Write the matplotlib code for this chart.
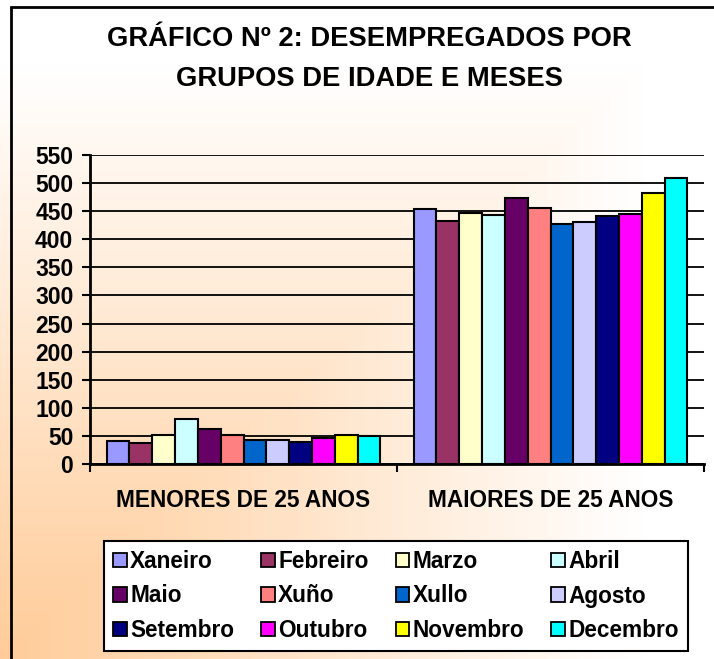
import numpy as np
import matplotlib.pyplot as plt
from matplotlib.patches import Rectangle, Patch

# data
grupos = ["MENORES DE 25 ANOS", "MAIORES DE 25 ANOS"]
meses = ["Xaneiro", "Febreiro", "Marzo", "Abril", "Maio", "Xuño",
         "Xullo", "Agosto", "Setembro", "Outubro", "Novembro", "Decembro"]
menores = [41, 38, 52, 80, 63, 51, 43, 43, 39, 47, 52, 50]
maiores = [454, 432, 447, 443, 474, 455, 428, 430, 441, 445, 482, 509]
cores = ["#9999FF", "#993366", "#FFFFCC", "#CCFFFF", "#660066", "#FF8080",
         "#0066CC", "#CCCCFF", "#000080", "#FF00FF", "#FFFF00", "#00FFFF"]
y_ticks = list(range(0, 551, 50))

plt.rcParams['font.family'] = ['Liberation Sans', 'DejaVu Sans']
plt.rcParams['font.weight'] = 'bold'

fig = plt.figure(figsize=(7.14, 6.59), dpi=100)

# background: corner gradient, orange bottom-left to white
bg = fig.add_axes([0, 0, 1, 1], zorder=-10)
gx, gy = np.meshgrid(np.linspace(0, 1, 400), np.linspace(0, 1, 400))
t = np.clip(np.maximum(gx, gy) / 0.9, 0, 1)
orange = np.array([255, 204, 153]) / 255.0
img = orange[None, None, :] * (1 - t[..., None]) + t[..., None]
bg.imshow(img, origin='lower', extent=[0, 1, 0, 1], aspect='auto')
bg.set_xlim(0, 1)
bg.set_ylim(0, 1)
bg.axis('off')

# outer frame (runs off the right/bottom of the picture)
fig.patches.append(Rectangle((11 / 714, -0.1), 1.2, (659 - 7) / 659 + 0.1,
                             transform=fig.transFigure, fill=False,
                             edgecolor='black', linewidth=2))

ax = fig.add_axes([90 / 714, (659 - 464) / 659, (704 - 90) / 714, (464 - 155) / 659])
ax.set_facecolor('none')

n = len(meses)
group_w = 0.892
bw = group_w / n
x = np.arange(len(grupos))
for i in range(n):
    vals = [menores[i], maiores[i]]
    pos = x - group_w / 2 + bw * (i + 0.5)
    ax.bar(pos, vals, width=bw, color=cores[i], edgecolor='black',
           linewidth=1.5, zorder=3)

ax.set_xlim(-0.5, 1.5)
ax.set_ylim(0, 550)
ax.set_yticks(y_ticks)
ax.set_yticklabels([str(v) for v in y_ticks], fontsize=16.5, fontweight='bold')
ax.yaxis.grid(True, color='black', linewidth=1.3, zorder=0)
ax.set_axisbelow(True)

ax.set_xticks(x)
ax.set_xticklabels(grupos, fontsize=16.3, fontweight='bold')
ax.tick_params(axis='x', which='major', length=0, pad=18)
ax.set_xticks([-0.5, 0.5, 1.5], minor=True)
ax.tick_params(axis='x', which='minor', length=6, width=1.5, direction='out')
ax.tick_params(axis='y', length=6, width=1.5, direction='out', pad=6)

for s in ['top', 'right']:
    ax.spines[s].set_visible(False)
for s in ['left', 'bottom']:
    ax.spines[s].set_linewidth(2)
    ax.spines[s].set_zorder(4)

fig.text(369 / 714, 1 - 59 / 659,
         "GRÁFICO Nº 2: DESEMPREGADOS POR\nGRUPOS DE IDADE E MESES",
         ha='center', va='center', fontsize=19.7, fontweight='bold',
         linespacing=1.65)

handles = [Patch(facecolor=cores[i], edgecolor='black', linewidth=1.3) for i in range(n)]
order = [0, 4, 8, 1, 5, 9, 2, 6, 10, 3, 7, 11]
leg = fig.legend([handles[i] for i in order], [meses[i] for i in order],
                 ncol=4, loc='center',
                 bbox_to_anchor=(396 / 714, 1 - 596 / 659),
                 frameon=True, fancybox=False, framealpha=1,
                 edgecolor='black', facecolor='white',
                 prop={'size': 16.3, 'weight': 'bold'},
                 handlelength=0.6, handleheight=0.6, handletextpad=0.15,
                 columnspacing=1.2, labelspacing=0.5, borderpad=0.4,
                 borderaxespad=0)
leg.get_frame().set_linewidth(1.5)

fig.savefig("out.png", dpi=100)
